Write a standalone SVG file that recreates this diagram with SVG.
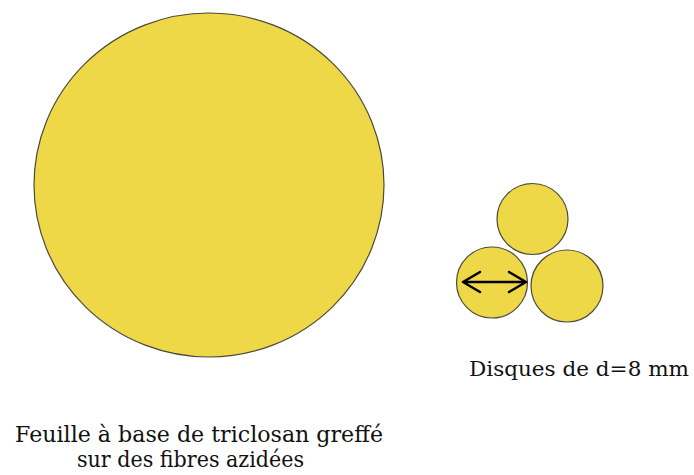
<svg xmlns="http://www.w3.org/2000/svg" width="694" height="475" viewBox="0 0 694 475">
<defs>
<style>
.disc{fill:#efd847;stroke:#4a4a3a;stroke-width:1.2}
.lbl{font-family:"DejaVu Serif","Liberation Serif",serif;font-size:23px;fill:#111}
.arr{fill:none;stroke:#000;stroke-width:2.5;stroke-linecap:round;stroke-linejoin:round}
</style>
</defs>
<rect width="694" height="475" fill="#fff"/>
<g id="sheet">
<ellipse class="disc" cx="209" cy="185" rx="175" ry="172"/>
</g>
<g id="disc-top"><circle class="disc" cx="532.5" cy="219" r="35.5"/></g>
<g id="disc-left"><circle class="disc" cx="492" cy="282.5" r="35.5"/></g>
<g id="disc-right"><circle class="disc" cx="567" cy="286" r="36"/></g>
<g id="connectors">
<path class="arr" d="M463,282 H526 M480,272 L463,282 L480,292 M509,272 L526,282 L509,292"/>
</g>
<g id="label-discs"><text class="lbl" x="469" y="376" style="font-size:21px" textLength="220" lengthAdjust="spacingAndGlyphs">Disques de d=8 mm</text></g>
<g id="label-sheet">
<text class="lbl" x="15" y="442" textLength="368" lengthAdjust="spacingAndGlyphs">Feuille à base de triclosan greffé</text>
<text class="lbl" x="77" y="467" textLength="227" lengthAdjust="spacingAndGlyphs">sur des fibres azidées</text>
</g>
</svg>
